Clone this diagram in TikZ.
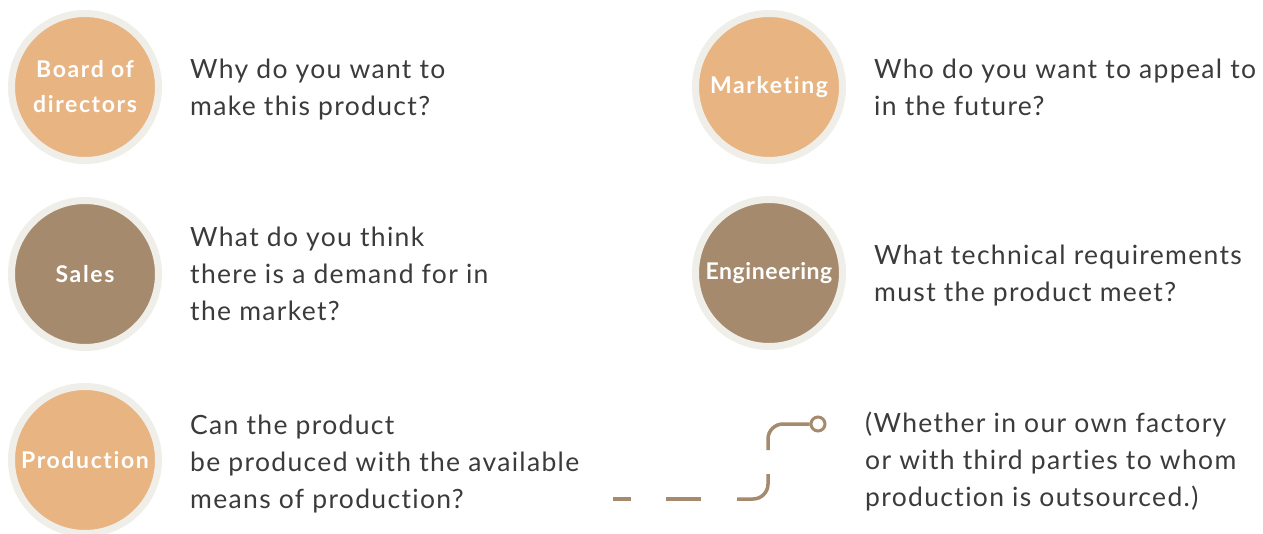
\documentclass[tikz,border=0pt]{standalone}
\usepackage{fontspec}
\setmainfont{Lato}[LetterSpace=5,Ligatures=NoCommon]
\newfontfamily\labfont{Lato}[BoldFont={Lato Bold},LetterSpace=7,Ligatures=NoCommon]
\newfontfamily\labfonttight{Lato}[BoldFont={Lato Bold},LetterSpace=2.5,Ligatures=NoCommon]
\definecolor{orng}{HTML}{E8B482}
\definecolor{brwn}{HTML}{A68A6D}
\definecolor{ringc}{HTML}{F0EEE8}
\definecolor{txt}{HTML}{3B3B3B}
\begin{document}
\begin{tikzpicture}[x=1pt,y=-1pt,
  role/.style={circle,draw=ringc,line width=7pt,minimum size=147pt,inner sep=0pt,
    text=white,align=center,font=\labfont\bfseries\fontsize{23}{35}\selectfont},
  orole/.style={role,fill=orng},
  brole/.style={role,fill=brwn},
  question/.style={anchor=base west,inner sep=0pt,align=left,text=txt,
    font=\fontsize{26.5}{37}\selectfont},
  link/.style={draw=brwn,line width=3.5pt},
  enddot/.style={circle,draw=brwn,line width=3pt,fill=white,minimum size=14pt,inner sep=0pt}]
\useasboundingbox (0,0) rectangle (1263,534);
\fill[white] (0,0) rectangle (1263,534);

\node[orole] (board) at (85,87) {Board of\\directors};
\node[brole] (sales) at (85,274) {Sales};
\node[orole] (prod) at (85,460) {Production};
\node[orole] (mkt) at (769,87) {Marketing};
\node[brole,font=\labfonttight\bfseries\fontsize{23}{35}\selectfont] (eng) at (769,273) {Engineering};

\node[question] (q1) at (190,116) {Why do you want to\\make this product?};
\node[question] (q2) at (190,321) {What do you think\\there is a demand for in\\the market?};
\node[question] (q3) at (190,508) {Can the product\\be produced with the available\\means of production?};
\node[question] (q4) at (874,116) {Who do you want to appeal to\\in the future?};
\node[question] (q5) at (874,302) {What technical requirements\\must the product meet?};
\node[question] (q6) at (865,506) {(Whether in our own factory\\or with third parties to whom\\production is outsourced.)};

\coordinate (a1) at (613,499);
\coordinate (a2) at (631,499);
\coordinate (b1) at (666,499);
\coordinate (b2) at (701,499);
\coordinate (c1) at (737,499);
\coordinate (c2) at (768,499);
\coordinate (c3) at (768,474);
\coordinate (e1) at (768,450);
\coordinate (e2) at (768,424);
\node[enddot] (dot) at (818,424) {};
\draw[link] (a1) -- (a2);
\draw[link] (b1) -- (b2);
\draw[link,rounded corners=15pt] (c1) -- (c2) -- (c3);
\draw[link,rounded corners=15pt] (e1) -- (e2) -- (dot.west);
\end{tikzpicture}
\end{document}
